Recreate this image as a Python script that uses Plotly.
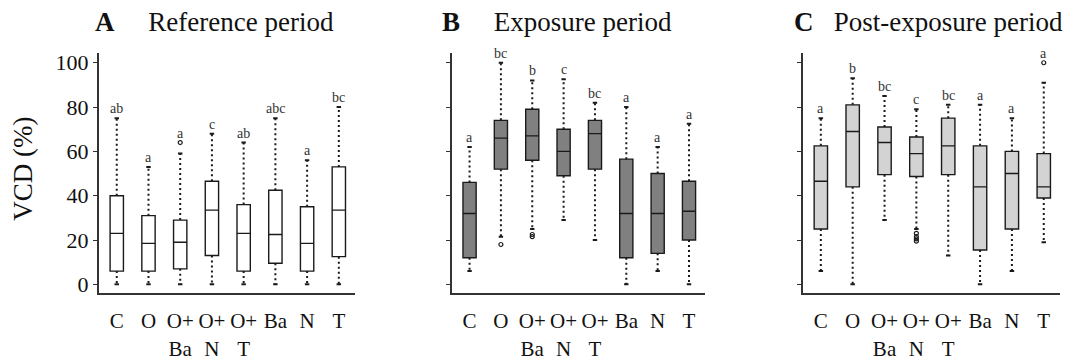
import plotly.graph_objects as go

categories = ["C", "O", "O+Ba", "O+N", "O+T", "Ba", "N", "T"]
tick_labels = ["C", "O", "O+<br>Ba", "O+<br>N", "O+<br>T", "Ba", "N", "T"]
y_ticks = [0, 20, 40, 60, 80, 100]

# Panel A - Reference period
a_lower = [0, 0, 0, 0, 0, 0, 0, 0]
a_q1 = [6, 6, 7, 13, 6, 9.5, 6, 12.5]
a_med = [23, 18.5, 19, 33.5, 23, 22.5, 18.5, 33.5]
a_q3 = [40, 31, 29, 46.5, 36, 42.5, 35, 53]
a_upper = [75, 53, 59, 68, 64, 75, 56, 80]
a_out = [[], [], [64], [], [], [], [], []]
a_letters = ["ab", "a", "a", "c", "ab", "abc", "a", "bc"]

# Panel B - Exposure period
b_lower = [6, 21.5, 25, 29, 20, 0, 6, 0]
b_q1 = [12, 52, 56, 49, 52, 12, 14, 20]
b_med = [32, 66, 67, 60, 68, 32, 32, 33]
b_q3 = [46, 74, 79, 70, 74, 56.5, 50, 46.5]
b_upper = [62, 100, 92, 92.5, 82, 80, 62, 72.5]
b_out = [[], [18], [22.5, 21.5], [], [], [], [], []]
b_letters = ["a", "bc", "b", "c", "bc", "a", "a", "a"]

# Panel C - Post-exposure period
c_lower = [6, 0, 29, 25, 13, 0, 6, 19]
c_q1 = [25, 44, 49.5, 48.7, 49.5, 15.5, 25, 39]
c_med = [46.5, 69, 64, 59, 62.5, 44, 50, 44]
c_q3 = [62.5, 81, 71, 66.5, 75, 62.5, 60, 59]
c_upper = [75, 93, 85, 79, 81, 81, 75, 91]
c_out = [[], [], [], [23, 21.5, 20.5, 19.5], [], [], [], [100]]
c_letters = ["a", "b", "bc", "c", "bc", "a", "a", "a"]

NB = "\u00a0"
panels = [
    dict(lower=a_lower, q1=a_q1, med=a_med, q3=a_q3, upper=a_upper, out=a_out,
         letters=a_letters, fill="#ffffff", title="<b>A</b>" + NB * 5 + "Reference period",
         domain=[99 / 1068, 355 / 1068], tcx=214),
    dict(lower=b_lower, q1=b_q1, med=b_med, q3=b_q3, upper=b_upper, out=b_out,
         letters=b_letters, fill="#808080", title="<b>B</b>" + NB * 5 + "Exposure period",
         domain=[452 / 1068, 705 / 1068], tcx=557),
    dict(lower=c_lower, q1=c_q1, med=c_med, q3=c_q3, upper=c_upper, out=c_out,
         letters=c_letters, fill="#d3d3d3", title="<b>C</b>" + NB * 3 + "Post-exposure period",
         domain=[803 / 1068, 1060 / 1068], tcx=928),
]

FONT = "Liberation Serif, Times New Roman, serif"
fig = go.Figure()
annotations = []
pos = list(range(len(categories)))
ydom = [(361 - 297) / 361, (361 - 52) / 361]

for k, p in enumerate(panels):
    xa = "x" if k == 0 else f"x{k+1}"
    ya = "y" if k == 0 else f"y{k+1}"
    fig.add_trace(go.Box(
        x=pos, q1=p["q1"], median=p["med"], q3=p["q3"],
        lowerfence=p["q1"], upperfence=p["q3"],
        width=0.42, whiskerwidth=0, fillcolor=p["fill"],
        line=dict(color="#1a1a1a", width=1.4), boxpoints=False,
        xaxis=xa, yaxis=ya, showlegend=False, hoverinfo="skip"))
    wx, wy, cx, cy = [], [], [], []
    for i in pos:
        wx += [i, i, None, i, i, None]
        wy += [p["q3"][i], p["upper"][i], None, p["q1"][i], p["lower"][i], None]
        for v in (p["upper"][i], p["lower"][i]):
            cx += [i - 0.07, i + 0.07, None]
            cy += [v, v, None]
    fig.add_trace(go.Scatter(x=wx, y=wy, mode="lines", xaxis=xa, yaxis=ya,
                             line=dict(color="#1a1a1a", width=2, dash="2px,3px"),
                             showlegend=False, hoverinfo="skip"))
    fig.add_trace(go.Scatter(x=cx, y=cy, mode="lines", xaxis=xa, yaxis=ya,
                             line=dict(color="#1a1a1a", width=2),
                             showlegend=False, hoverinfo="skip"))
    ox, oy = [], []
    for i in pos:
        for v in p["out"][i]:
            ox.append(i)
            oy.append(v)
    if ox:
        fig.add_trace(go.Scatter(x=ox, y=oy, mode="markers", xaxis=xa, yaxis=ya,
                                 marker=dict(symbol="circle-open", size=4,
                                             color="#1a1a1a", line=dict(width=1.2)),
                                 showlegend=False, hoverinfo="skip"))
    for i in pos:
        top = max([p["upper"][i]] + p["out"][i])
        annotations.append(dict(x=i, y=top, xref=xa, yref=ya, text=p["letters"][i],
                                showarrow=False, yanchor="bottom", yshift=0,
                                font=dict(family=FONT, size=14, color="#333")))
    annotations.append(dict(x=p["tcx"] / 1068, y=1 - 20 / 361, xref="paper", yref="paper",
                            text=p["title"], showarrow=False, xanchor="center",
                            yanchor="middle",
                            font=dict(family=FONT, size=27, color="#111")))
    axis_x = dict(domain=p["domain"], range=[-0.56, 7.51], tickvals=pos,
                  ticktext=tick_labels, showline=True, linecolor="#333",
                  linewidth=2, ticks="", showgrid=False, zeroline=False,
                  tickfont=dict(family=FONT, size=21, color="#111"),
                  ticklabelstandoff=8, anchor=ya)
    axis_y = dict(domain=ydom, range=[-4, 104.4], tickvals=y_ticks,
                  showline=True, linecolor="#333", linewidth=2, ticks="outside",
                  ticklen=4, tickcolor="#333", showgrid=False, zeroline=False,
                  showticklabels=(k == 0),
                  tickfont=dict(family=FONT, size=22, color="#111"), anchor=xa)
    fig.layout["xaxis" if k == 0 else f"xaxis{k+1}"] = axis_x
    fig.layout["yaxis" if k == 0 else f"yaxis{k+1}"] = axis_y

annotations.append(dict(x=23 / 1068, y=1 - 170 / 361, xref="paper", yref="paper",
                        text="VCD (%)", textangle=-90, showarrow=False,
                        xanchor="center", yanchor="middle",
                        font=dict(family=FONT, size=27, color="#111")))

fig.update_layout(width=1068, height=361, margin=dict(l=0, r=0, t=0, b=0),
                  paper_bgcolor="white", plot_bgcolor="white",
                  annotations=annotations)
fig.write_html("out.html")
